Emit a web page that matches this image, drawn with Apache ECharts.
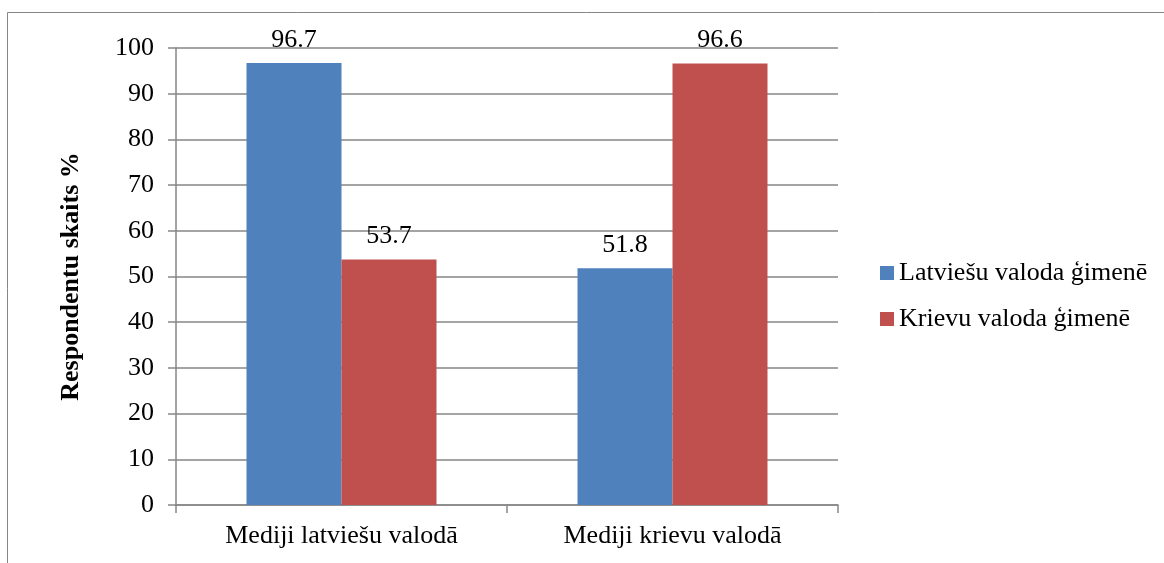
<!DOCTYPE html>
<html>
<head>
<meta charset="utf-8">
<script src="https://cdn.jsdelivr.net/npm/echarts@6/dist/echarts.min.js"></script>
<style>
  html, body { margin: 0; padding: 0; background: #fff; }
  #chart { width: 1164px; height: 563px; }
</style>
</head>
<body>
<div id="chart"></div>
<script>
var categories = ["Mediji latviešu valodā", "Mediji krievu valodā"];
var seriesNames = ["Latviešu valoda ģimenē", "Krievu valoda ģimenē"];
var latvianValues = [96.7, 51.8];
var russianValues = [53.7, 96.6];
var yTicks = { min: 0, max: 100, interval: 10 };

var font = "'Liberation Serif', 'Times New Roman', serif";
var gray = "#868686";
var fs = 26;

var chart = echarts.init(document.getElementById("chart"));

function barLabel() {
  return {
    show: true,
    position: "top",
    distance: 10,
    color: "#000",
    fontFamily: font,
    fontSize: fs
  };
}

var option = {
  animation: false,
  color: ["#4F81BD", "#C0504D"],
  textStyle: { fontFamily: font },
  graphic: [{
    type: "rect",
    shape: { x: 7.5, y: 12.5, width: 1200, height: 600 },
    style: { fill: "none", stroke: gray, lineWidth: 1 },
    silent: true
  }],
  grid: {
    left: 176,
    right: 326,
    top: 48,
    bottom: 58
  },
  legend: {
    orient: "vertical",
    left: 875,
    top: 255,
    itemWidth: 14,
    itemHeight: 14,
    itemGap: 20,
    icon: "rect",
    data: seriesNames,
    textStyle: { fontFamily: font, fontSize: fs, color: "#000" }
  },
  xAxis: {
    type: "category",
    data: categories,
    axisLine: { lineStyle: { color: gray, width: 1.5 } },
    axisTick: { show: true, length: 8, lineStyle: { color: gray, width: 1.5 } },
    axisLabel: { color: "#000", fontFamily: font, fontSize: fs, margin: 18 }
  },
  yAxis: {
    type: "value",
    min: yTicks.min,
    max: yTicks.max,
    interval: yTicks.interval,
    name: "Respondentu skaits %",
    nameLocation: "middle",
    nameGap: 92,
    nameTextStyle: { fontFamily: font, fontSize: fs, fontWeight: "bold", color: "#000" },
    axisLine: { show: true, lineStyle: { color: gray, width: 1.5 } },
    axisTick: { show: true, length: 8, lineStyle: { color: gray, width: 1.5 } },
    axisLabel: { color: "#000", fontFamily: font, fontSize: fs, margin: 22 },
    splitLine: { lineStyle: { color: gray, width: 1.5 } }
  },
  series: [
    {
      name: seriesNames[0],
      type: "bar",
      data: latvianValues,
      barWidth: 95,
      barGap: "0%",
      label: barLabel()
    },
    {
      name: seriesNames[1],
      type: "bar",
      data: russianValues,
      barWidth: 95,
      label: barLabel()
    }
  ]
};

chart.setOption(option);
</script>
</body>
</html>
